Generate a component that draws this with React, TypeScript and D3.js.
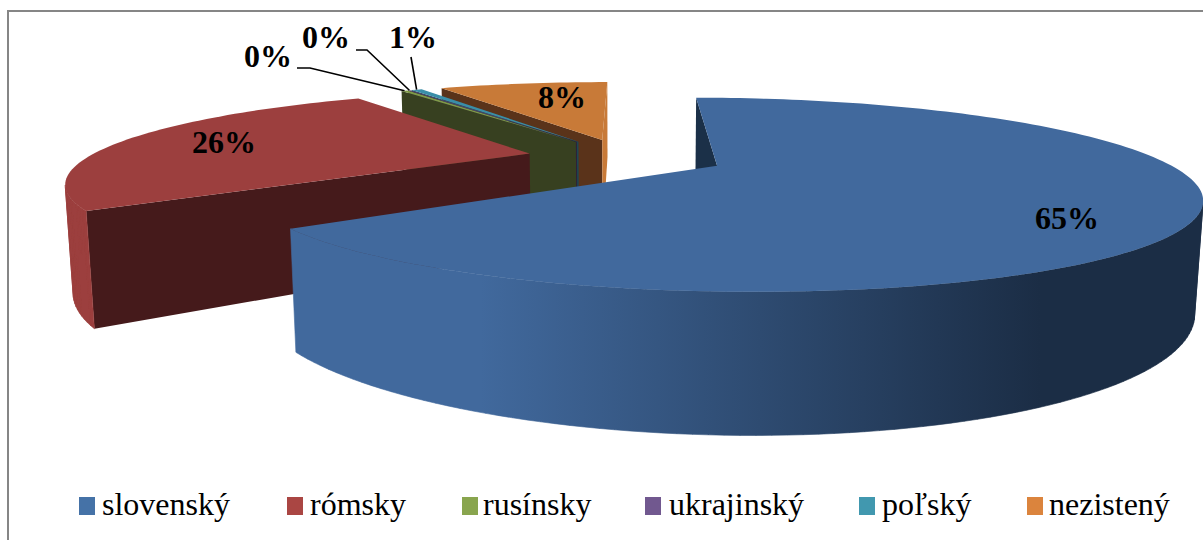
import React from 'react';
import * as d3 from 'd3';

const width = 1203;
const height = 540;

const CATEGORIES = ['slovenský', 'rómsky', 'rusínsky', 'ukrajinský', 'poľský', 'nezistený'];
const VALUES = [65, 25.9, 0.3, 0.1, 0.5, 8.2];
const LABELS = ['65%', '26%', '0%', '0%', '1%', '8%'];
const TOP_COLORS = ['#41699d', '#9c3f3e', '#7f9a48', '#644a80', '#3a8ea8', '#c87a38'];
const SIDE_COLORS = ['#41699d', '#9c3f3e', '#7f9a48', '#644a80', '#3a8ea8', '#c87a38'];
const FACE_COLORS = ['#1b3048', '#451a1b', '#374020', '#2d2139', '#1d4654', '#5a331a'];
const LEGEND_COLORS = ['#4572a7', '#aa4643', '#89a54e', '#71588f', '#4198af', '#db843d'];

// where the labels and legend entries sit
const LABEL_X = [1067, 224, 268, 326, 413, 562];
const LABEL_Y = [229, 153, 67, 48, 48, 108];
const LEGEND_SWATCH_X = [79, 287, 462, 645, 859, 1027];
const LEGEND_TEXT_X = [102, 310, 483, 669, 882, 1049];
const LEADER_ELBOWS = [null, null, [[297, 68], [310, 68]], [[356, 50], [367, 50]], [[411, 57]], null];

// camera for the tilted pie
const camX = 626;
const horizonY = -130;
const horizonH = 287;
const persp = 0.29;
const scale = 441;
const thickness = 0.234;
const explode = 0.225;
const tilt = Math.asin((horizonH * persp) / scale);

function project(X: number, Y: number, Z: number): [number, number] {
  const w = 1 + (persp / Math.cos(tilt)) * (Y * Math.cos(tilt) - Z * Math.sin(tilt));
  const sx = camX + (scale * X) / w;
  const sy = horizonY + horizonH - (scale * (Y * Math.sin(tilt) + Z * Math.cos(tilt))) / w;
  return [sx, sy];
}

const arcs = d3.pie<number>().sort(null).startAngle(0).endAngle(2 * Math.PI)(VALUES);
const toPath = d3.line();

function sliceShapes(i: number) {
  const a = arcs[i];
  const mid = (a.startAngle + a.endAngle) / 2;
  const ox = explode * Math.sin(mid);
  const oy = explode * Math.cos(mid);
  const rim = (t: number, z: number) => project(ox + Math.sin(t), oy + Math.cos(t), z);
  const apex = (z: number) => project(ox, oy, z);
  const n = Math.max(2, Math.ceil((a.endAngle - a.startAngle) * 40));
  const angles = d3.range(n + 1).map(k => a.startAngle + ((a.endAngle - a.startAngle) * k) / n);

  // only the wall pieces that face the camera, in one path so there are no seams
  const wall = d3
    .pairs(angles)
    .map(([t0, t1]) => [rim(t0, 0), rim(t1, 0), rim(t1, -thickness), rim(t0, -thickness)])
    .filter(q => d3.polygonArea(q) > 0)
    .map(q => toPath(q) + 'Z')
    .join('');

  const startFace = [apex(0), rim(a.startAngle, 0), rim(a.startAngle, -thickness), apex(-thickness)];
  const endFace = [apex(0), rim(a.endAngle, 0), rim(a.endAngle, -thickness), apex(-thickness)];
  return {
    top: toPath([apex(0), ...angles.map(t => rim(t, 0))]) + 'Z',
    wall,
    startFace: d3.polygonArea(startFace) > 0 ? toPath(startFace) + 'Z' : null,
    endFace: d3.polygonArea(endFace) < 0 ? toPath(endFace) + 'Z' : null,
    anchor: rim(mid, 0),
  };
}

// far slices are painted first, the big blue one last
const PAINT_ORDER = [5, 4, 3, 2, 1, 0];

const App = () => {
  return (
    <svg
      width={width}
      height={height}
      viewBox={`0 0 ${width} ${height}`}
      style={{ position: 'absolute', left: 0, top: 0, display: 'block' }}
    >
      <defs>
        <linearGradient id="blueWall" gradientUnits="userSpaceOnUse" x1="480" y1="0" x2="1040" y2="0">
          <stop offset="0" stopColor="#41699d" />
          <stop offset="1" stopColor="#1b2d45" />
        </linearGradient>
      </defs>
      <rect x="0" y="0" width={width} height={height} fill="#fff" />
      <path d={`M8,${height}V11H${width}`} fill="none" stroke="#868686" strokeWidth="2" />

      {PAINT_ORDER.map(i => {
        const s = sliceShapes(i);
        const wallFill = i === 0 ? 'url(#blueWall)' : SIDE_COLORS[i];
        return (
          <g key={CATEGORIES[i]}>
            {s.startFace && <path d={s.startFace} fill={FACE_COLORS[i]} />}
            {s.endFace && <path d={s.endFace} fill={SIDE_COLORS[i]} />}
            <path d={s.wall} fill={wallFill} stroke={wallFill} strokeWidth="0.6" />
            <path d={s.top} fill={TOP_COLORS[i]} />
          </g>
        );
      })}

      {LEADER_ELBOWS.map((elbow, i) =>
        elbow ? (
          <path
            key={i}
            d={toPath([...(elbow as [number, number][]), sliceShapes(i).anchor]) as string}
            fill="none"
            stroke="#000"
            strokeWidth="1.6"
          />
        ) : null
      )}

      {LABELS.map((label, i) => (
        <text
          key={i}
          x={LABEL_X[i]}
          y={LABEL_Y[i]}
          textAnchor="middle"
          fontFamily="'Liberation Serif'"
          fontWeight="bold"
          fontSize="32"
          fill="#000"
        >
          {label}
        </text>
      ))}

      {CATEGORIES.map((name, i) => (
        <g key={name}>
          <rect x={LEGEND_SWATCH_X[i]} y="497" width="16" height="18" fill={LEGEND_COLORS[i]} />
          <text x={LEGEND_TEXT_X[i]} y="515" fontFamily="'Liberation Serif'" fontSize="32" fill="#000">
            {name}
          </text>
        </g>
      ))}
    </svg>
  );
};

export default App;
